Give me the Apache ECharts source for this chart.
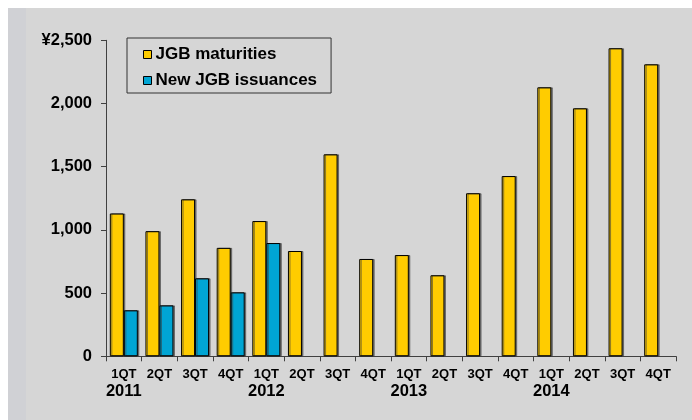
<!DOCTYPE html>
<html>
<head>
<meta charset="utf-8">
<script src="https://cdn.jsdelivr.net/npm/echarts@6/dist/echarts.min.js"></script>
<style>
html,body{margin:0;padding:0;background:#ffffff;}
#chart{width:692px;height:420px;}
</style>
</head>
<body>
<div id="chart"></div>
<script>
var quarters = ["1QT","2QT","3QT","4QT","1QT","2QT","3QT","4QT","1QT","2QT","3QT","4QT","1QT","2QT","3QT","4QT"];
var years = ["2011","","","","2012","","","","2013","","","","2014","","",""];
var maturities = [1130, 990, 1242, 858, 1070, 833, 1598, 770, 801, 641, 1290, 1426, 2128, 1962, 2437, 2310];
var issuances = [364, 403, 617, 506, 896, null, null, null, null, null, null, null, null, null, null, null];
var seriesNames = ["JGB maturities", "New JGB issuances"];
var yTicks = [0, 500, 1000, 1500, 2000, 2500];

var categories = quarters.map(function(q, i){ return q + "|" + years[i]; });

var chart = echarts.init(document.getElementById('chart'), null, {renderer: 'canvas'});
var font = "'Liberation Sans', Arial, sans-serif";
var barStyle = function(color){
  return {
    color: color,
    borderColor: '#000',
    borderWidth: 1,
    shadowColor: 'rgba(60,60,60,0.6)',
    shadowOffsetX: 1.5,
    shadowOffsetY: 0,
    shadowBlur: 0
  };
};
chart.setOption({
  animation: false,
  backgroundColor: '#ffffff',
  graphic: [
    {type: 'rect', shape: {x: 8, y: 8, width: 684, height: 412}, style: {fill: '#d6d6d6'}, z: -10, silent: true},
    {type: 'rect', shape: {x: 8, y: 8, width: 18, height: 412}, style: {fill: '#d0d1d5'}, z: -9, silent: true}
  ],
  grid: {left: 106, right: 16, top: 40.3, bottom: 63.7, containLabel: false},
  legend: {
    orient: 'vertical',
    left: 127,
    top: 38,
    backgroundColor: 'transparent',
    borderColor: '#333',
    borderWidth: 1,
    padding: [8, 14, 4, 16],
    itemWidth: 8,
    itemHeight: 8,
    itemGap: 9,
    icon: 'rect',
    textStyle: {fontFamily: font, fontWeight: 'bold', fontSize: 17, color: '#000', lineHeight: 17, padding: [0, 0, 0, -1]},
    itemStyle: {borderColor: '#000', borderWidth: 1},
    data: seriesNames
  },
  xAxis: {
    type: 'category',
    data: categories,
    boundaryGap: true,
    axisLine: {lineStyle: {color: '#404040', width: 1}},
    axisTick: {show: true, length: 5, lineStyle: {color: '#404040'}},
    axisLabel: {
      interval: 0,
      margin: 11,
      formatter: function(v){
        var p = v.split("|");
        return p[1] ? "{q|" + p[0] + "}\n{y|" + p[1] + "}" : "{q|" + p[0] + "}";
      },
      rich: {
        q: {fontFamily: font, fontWeight: 'bold', fontSize: 13, color: '#000', lineHeight: 14},
        y: {fontFamily: font, fontWeight: 'bold', fontSize: 16.5, color: '#000', lineHeight: 20}
      }
    }
  },
  yAxis: {
    type: 'value',
    min: yTicks[0],
    max: yTicks[yTicks.length - 1],
    interval: 500,
    splitLine: {show: false},
    axisLine: {show: true, lineStyle: {color: '#404040', width: 1}},
    axisTick: {show: true, length: 5, lineStyle: {color: '#404040'}},
    axisLabel: {
      margin: 14,
      fontFamily: font, fontWeight: 'bold', fontSize: 16.5, color: '#000',
      formatter: function(v){
        var s = v.toString().replace(/\B(?=(\d{3})+(?!\d))/g, ",");
        return v === yTicks[yTicks.length - 1] ? "¥" + s : s;
      }
    }
  },
  series: [
    {name: seriesNames[0], type: 'bar', data: maturities, barWidth: 14, barGap: '0%', itemStyle: barStyle('#ffcc00')},
    {name: seriesNames[1], type: 'bar', data: issuances, barWidth: 14, barGap: '0%', itemStyle: barStyle('#00a5d4')}
  ]
});
</script>
</body>
</html>
